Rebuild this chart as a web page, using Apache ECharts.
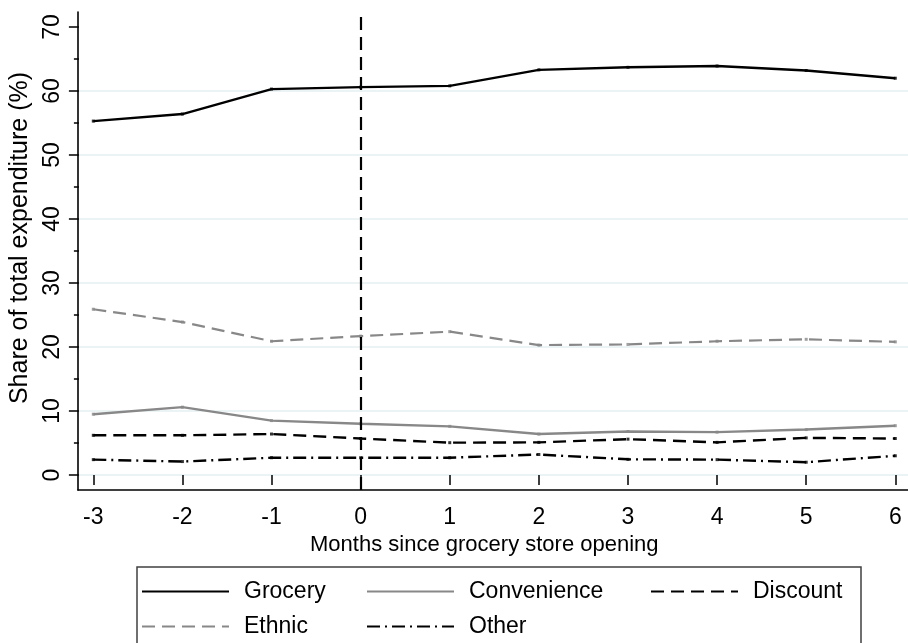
<!DOCTYPE html>
<html>
<head>
<meta charset="utf-8">
<script src="https://cdn.jsdelivr.net/npm/echarts@6/dist/echarts.min.js"></script>
<style>html,body{margin:0;padding:0;background:#fff}#c{width:908px;height:643px}</style>
</head>
<body>
<div id="c"></div>
<script>
const months = [-3, -2, -1, 0, 1, 2, 3, 4, 5, 6];
const grocery = [55.3, 56.4, 60.3, 60.6, 60.8, 63.3, 63.7, 63.9, 63.2, 62.0];
const convenience = [9.5, 10.6, 8.5, 8.0, 7.6, 6.4, 6.8, 6.7, 7.1, 7.7];
const discount = [6.2, 6.2, 6.4, 5.7, 5.05, 5.1, 5.6, 5.1, 5.8, 5.7];
const ethnic = [25.9, 23.9, 20.9, 21.7, 22.4, 20.3, 20.4, 20.9, 21.2, 20.8];
const other = [2.4, 2.1, 2.7, 2.7, 2.7, 3.2, 2.45, 2.4, 2.0, 3.0];
const openingMonth = 0;
const xTitle = 'Months since grocery store opening';
const yTitle = 'Share of total expenditure (%)';

const FONT = "'Liberation Sans', Arial, Helvetica, sans-serif";
const pair = arr => months.map((m, i) => [m, arr[i]]);

const styles = {
  Grocery: { color: '#000000', type: 'solid', width: 2.4 },
  Convenience: { color: '#888888', type: 'solid', width: 2.4 },
  Discount: { color: '#000000', type: [13, 7], width: 2.4 },
  Ethnic: { color: '#888888', type: [13, 7], width: 2.2 },
  Other: { color: '#000000', type: [13, 5, 2, 5], width: 2.4 }
};
const seriesData = { Grocery: grocery, Convenience: convenience, Discount: discount, Ethnic: ethnic, Other: other };

const series = [];
Object.keys(seriesData).forEach(name => {
  series.push({
    name, type: 'line', xAxisIndex: 0, yAxisIndex: 0,
    data: pair(seriesData[name]), symbol: 'none', silent: true,
    itemStyle: { color: styles[name].color },
    lineStyle: styles[name], z: 3
  });
  series.push({
    name: name + ' pts', type: 'scatter', xAxisIndex: 0, yAxisIndex: 0,
    data: pair(seriesData[name]), symbol: 'rect', symbolSize: 3, silent: true,
    itemStyle: { color: styles[name].color }, z: 4
  });
});
series.push({
  name: 'opening', type: 'line', xAxisIndex: 2, yAxisIndex: 2, data: [], silent: true,
  markLine: {
    symbol: 'none', silent: true, label: { show: false },
    lineStyle: { color: '#000', type: [13, 7], width: 2.2 },
    data: [{ xAxis: openingMonth }]
  }
});

const chart = echarts.init(document.getElementById('c'), null, { renderer: 'canvas' });
chart.setOption({
  backgroundColor: '#ffffff',
  animation: false,
  textStyle: { fontFamily: FONT },
  grid: [
    { left: 93.3, right: 12.7, top: 27, bottom: 168 },
    { left: 78, right: 0, top: 27, bottom: 168 },
    { left: 78, right: 0, top: 12, bottom: 153 }
  ],
  xAxis: [
    {
      gridIndex: 0, type: 'value', min: -3, max: 6, interval: 1, offset: 15,
      axisLine: { show: false },
      axisTick: { show: true, length: 10, lineStyle: { color: '#000', width: 1.5 } },
      axisLabel: { fontSize: 23, color: '#000', margin: 16, fontFamily: FONT },
      splitLine: { show: false },
      name: xTitle, nameLocation: 'middle', nameGap: 44,
      nameTextStyle: { fontSize: 22, color: '#000', fontFamily: FONT, padding: [0, 20, 0, 0] }
    },
    { gridIndex: 1, type: 'value', min: 0, max: 1, show: false },
    {
      gridIndex: 2, type: 'value', min: -3.172, max: 6.1425,
      axisLine: { show: true, onZero: false, lineStyle: { color: '#000', width: 1.6 } },
      axisTick: { show: false }, axisLabel: { show: false }, splitLine: { show: false }
    }
  ],
  yAxis: [
    { gridIndex: 0, type: 'value', min: 0, max: 70, show: false },
    {
      gridIndex: 1, type: 'value', min: 0, max: 70, interval: 10,
      axisLine: { show: false },
      axisTick: { show: true, length: 10, lineStyle: { color: '#000', width: 1.5 } },
      minorTick: { show: true, splitNumber: 2, length: 5, lineStyle: { color: '#000', width: 1.5 } },
      axisLabel: { rotate: 90, fontSize: 23, color: '#000', margin: 15, fontFamily: FONT },
      splitLine: { show: true, showMaxLine: false, lineStyle: { color: '#e6eff1', width: 1.5 } },
      name: yTitle, nameLocation: 'middle', nameGap: 33,
      nameTextStyle: { fontSize: 25, color: '#000', fontFamily: FONT, padding: [0, 0, 0, 26] }
    },
    {
      gridIndex: 2, type: 'value', min: -2.344, max: 72.34,
      axisLine: { show: true, onZero: false, lineStyle: { color: '#000', width: 1.6 } },
      axisTick: { show: false }, axisLabel: { show: false }, splitLine: { show: false }
    }
  ],
  legend: {
    left: 137, top: 567, orient: 'horizontal', width: 720,
    itemGap: 0, itemWidth: 87, itemHeight: 14,
    padding: [7, 8, 40, 4],
    borderColor: '#404040', borderWidth: 1.5,
    itemStyle: { opacity: 0 },
    textStyle: { fontFamily: FONT, fontSize: 23, color: '#000', lineHeight: 35, padding: [0, 0, 0, 10] },
    selectedMode: false,
    data: [
      { name: 'Grocery', textStyle: { width: 122 } },
      { name: 'Convenience', textStyle: { width: 181 } },
      { name: 'Discount', textStyle: { width: 100 } },
      { name: 'Ethnic', textStyle: { width: 122 } },
      { name: 'Other', textStyle: { width: 181 } }
    ]
  },
  series
});
</script>
</body>
</html>
